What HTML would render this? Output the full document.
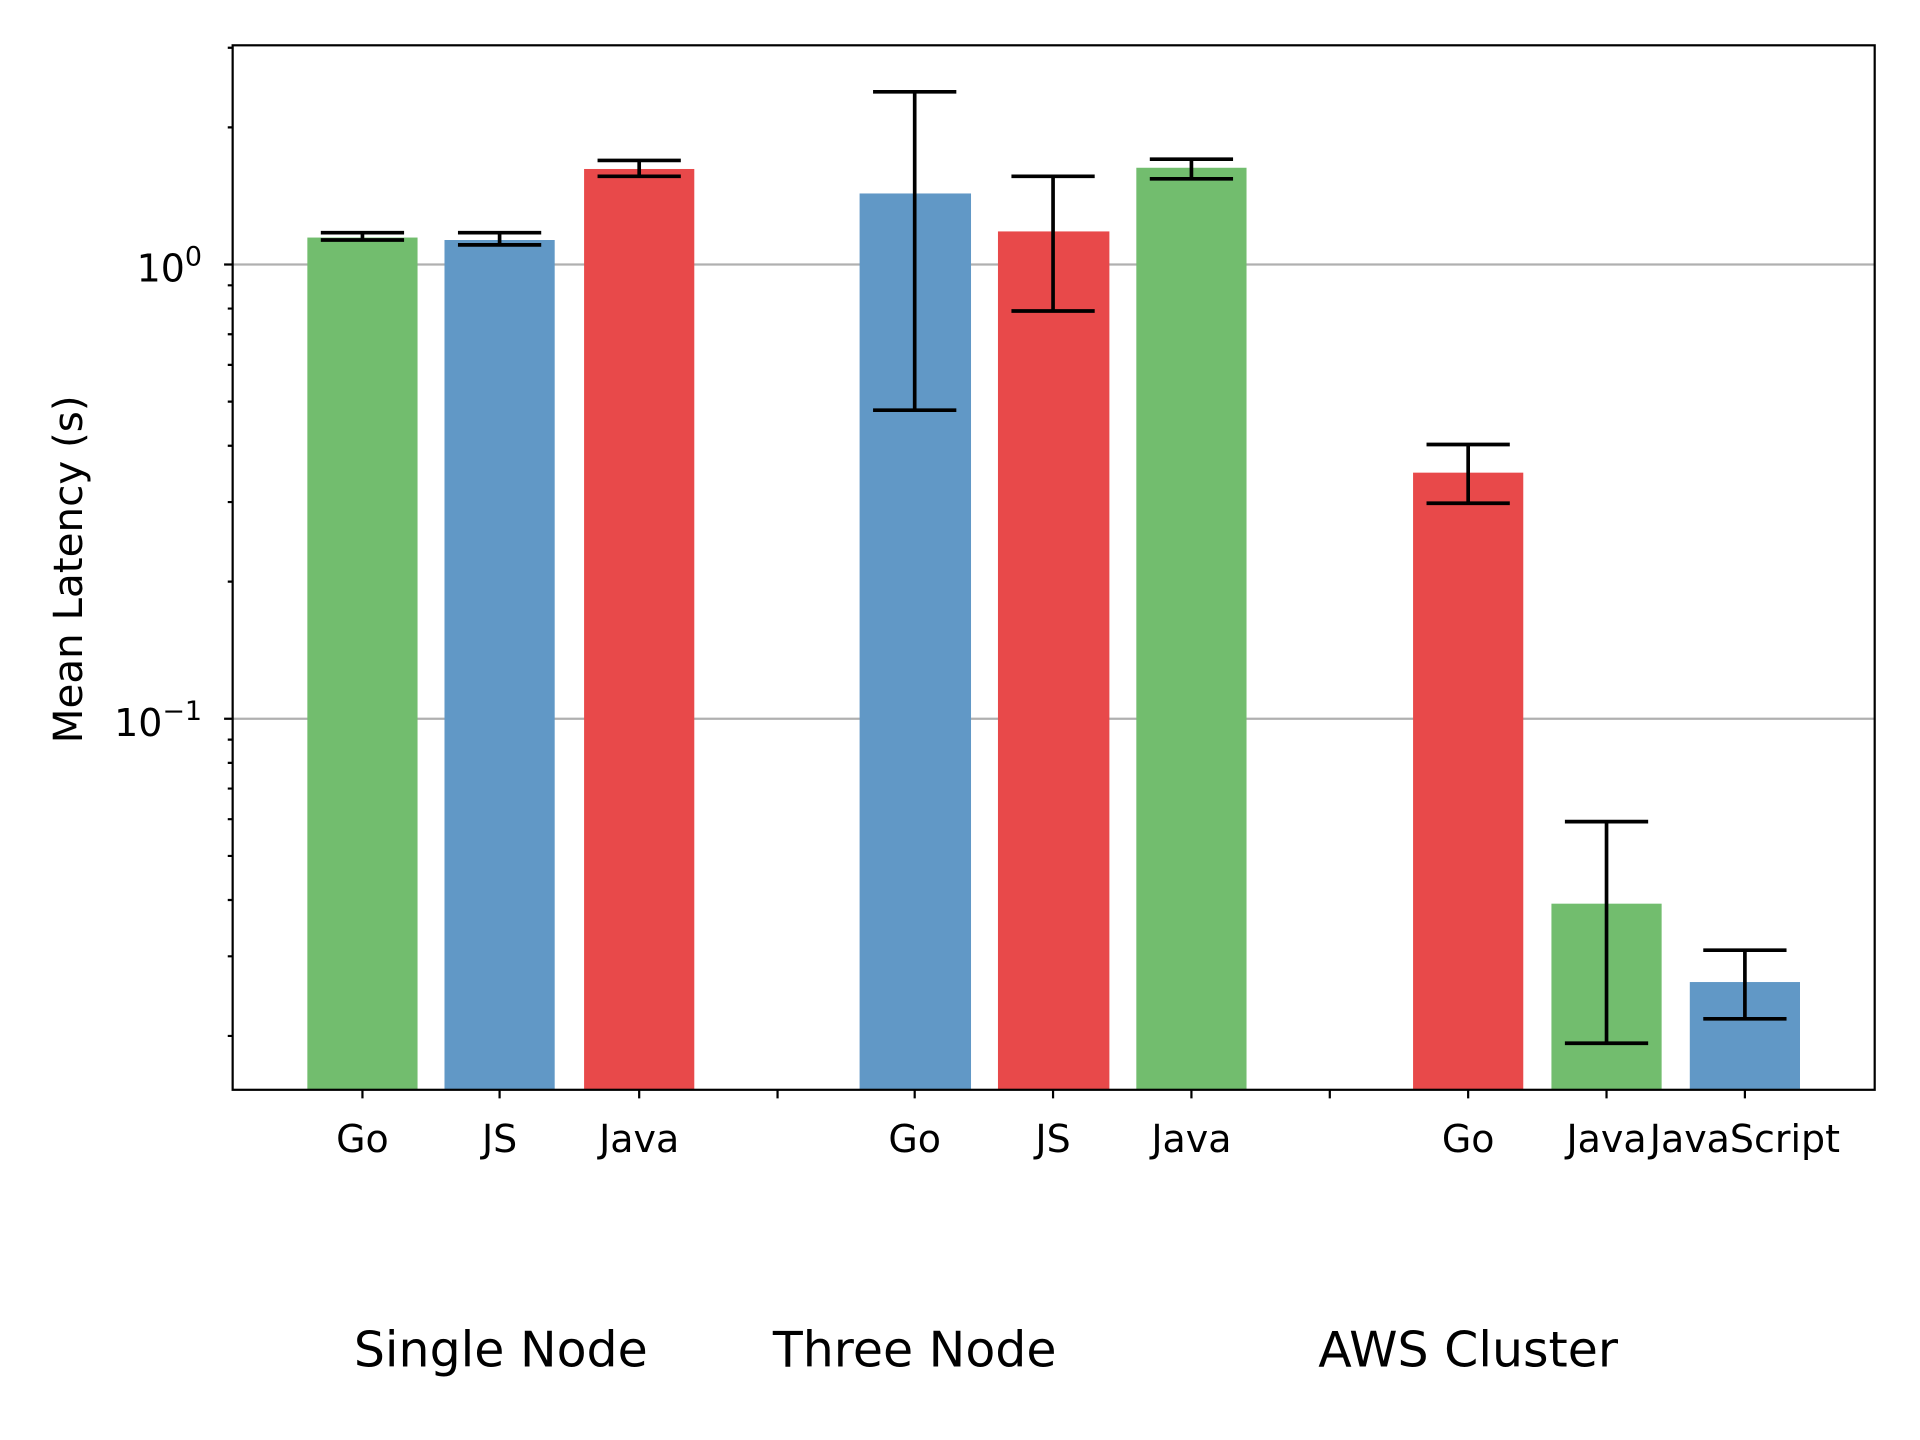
<!DOCTYPE html>
<html><head><meta charset="utf-8"><style>
html,body{margin:0;padding:0;background:#fff;}
svg{display:block;}
text{font-family:"DejaVu Sans","Liberation Sans",sans-serif;fill:#000;}
</style></head><body>
<svg width="1920" height="1440" viewBox="0 0 1568 1176" preserveAspectRatio="none" xmlns="http://www.w3.org/2000/svg">
<rect x="0" y="0" width="1568" height="1176" fill="#fff"/>
<line x1="190" y1="216" x2="1531" y2="216" stroke="#b0b0b0" stroke-width="1.8"/>
<line x1="190" y1="587" x2="1531" y2="587" stroke="#b0b0b0" stroke-width="1.8"/>
<g>
<rect x="251" y="194" width="90" height="696" fill="#72bd6e"/>
<rect x="363" y="196" width="90" height="694" fill="#6198c6"/>
<rect x="477" y="138" width="90" height="752" fill="#e8494a"/>
<rect x="702" y="158" width="91" height="732" fill="#6198c6"/>
<rect x="815" y="189" width="91" height="701" fill="#e8494a"/>
<rect x="928" y="137" width="90" height="753" fill="#72bd6e"/>
<rect x="1154" y="386" width="90" height="504" fill="#e8494a"/>
<rect x="1267" y="738" width="90" height="152" fill="#72bd6e"/>
<rect x="1380" y="802" width="90" height="88" fill="#6198c6"/>
</g>
<g stroke="#000" stroke-width="3" fill="none">
<path d="M296 190V196M262 190H330M262 196H330"/>
<path d="M408 190V200M374 190H442M374 200H442"/>
<path d="M522 131V144M488 131H556M488 144H556"/>
<path d="M747 75V335M713 75H781M713 335H781"/>
<path d="M860 144V254M826 144H894M826 254H894"/>
<path d="M973 130V146M939 130H1007M939 146H1007"/>
<path d="M1199 363V411M1165 363H1233M1165 411H1233"/>
<path d="M1312 671V852M1278 671H1346M1278 852H1346"/>
<path d="M1425 776V832M1391 776H1459M1391 832H1459"/>
</g>
<rect x="190" y="37" width="1341" height="853" fill="none" stroke="#000" stroke-width="1.8"/>
<g stroke="#000" stroke-width="1.8">
<path d="M183 216H190M183 587H190"/>
<path d="M186 846H190M186 781H190M186 735H190M186 699H190M186 669H190M186 644H190M186 623H190M186 604H190"/>
<path d="M186 475H190M186 410H190M186 364H190M186 328H190M186 298H190M186 273H190M186 252H190M186 233H190M186 104H190M186 39H190"/>
</g>
<g stroke="#000" stroke-width="1.8">
<path d="M296 890V897M408 890V897M522 890V897M635 890V897M747 890V897M860 890V897M973 890V897M1086 890V897M1199 890V897M1312 890V897M1425 890V897"/>
</g>
<text x="165" y="230" font-size="31" text-anchor="end">10<tspan font-size="22" dy="-13">0</tspan></text>
<text x="165" y="601" font-size="31" text-anchor="end">10<tspan font-size="22" dy="-13">−1</tspan></text>
<text transform="translate(67,465) rotate(-90)" font-size="33" text-anchor="middle">Mean Latency (s)</text>
<g font-size="31" text-anchor="middle">
<text x="296" y="941">Go</text>
<text x="408" y="941">JS</text>
<text x="522" y="941">Java</text>
<text x="747" y="941">Go</text>
<text x="860" y="941">JS</text>
<text x="973" y="941">Java</text>
<text x="1199" y="941">Go</text>
<text x="1312" y="941">Java</text>
<text x="1425" y="941">JavaScript</text>
</g>
<g font-size="40" text-anchor="middle">
<text x="409" y="1116">Single Node</text>
<text x="747" y="1116">Three Node</text>
<text x="1199" y="1116">AWS Cluster</text>
</g>
</svg>
</body></html>
